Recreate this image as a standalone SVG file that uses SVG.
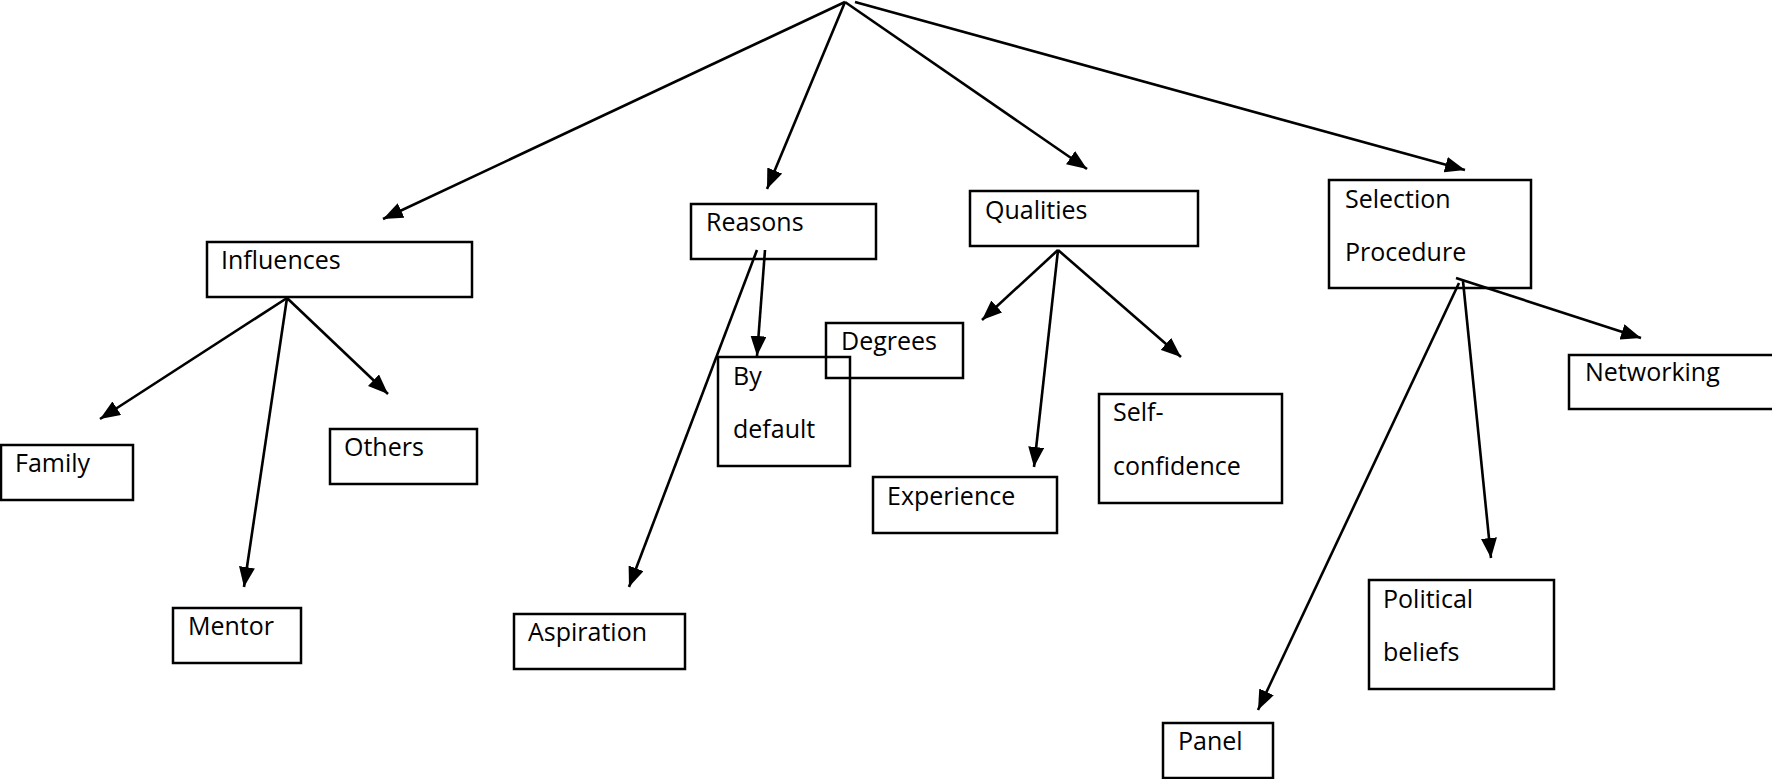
<svg xmlns="http://www.w3.org/2000/svg" width="1772" height="779" viewBox="0 0 1772 779">
<style>
.box{fill:none;stroke:#000;stroke-width:2.5}
.t{font-family:"Open Sans","Liberation Sans",sans-serif;font-size:25px;fill:#000}
.c{stroke:#000;stroke-width:2.6;fill:none;marker-end:url(#ah)}
</style>
<defs>
<marker id="ah" markerUnits="userSpaceOnUse" markerWidth="22" markerHeight="16" refX="20" refY="8" orient="auto" viewBox="0 0 22 16">
<path d="M0,0 L20,8 L0,16 z" fill="#000"/>
</marker>
</defs>
<rect width="1772" height="779" fill="#fff"/>
<g id="connectors">
<line class="c" x1="845" y1="2" x2="383" y2="219"/>
<line class="c" x1="845" y1="2" x2="767" y2="189"/>
<line class="c" x1="845" y1="2" x2="1087" y2="169"/>
<line class="c" x1="855" y1="2" x2="1465" y2="170"/>
<line class="c" x1="287" y1="298" x2="100" y2="419"/>
<line class="c" x1="287" y1="298" x2="244" y2="587"/>
<line class="c" x1="287" y1="298" x2="388" y2="394"/>
<line class="c" x1="757" y1="250" x2="629" y2="587"/>
<line class="c" x1="765" y1="250" x2="757" y2="356"/>
<line class="c" x1="1058" y1="250" x2="982" y2="320"/>
<line class="c" x1="1058" y1="250" x2="1034" y2="467"/>
<line class="c" x1="1058" y1="250" x2="1181" y2="357"/>
<line class="c" x1="1456" y1="278" x2="1641" y2="338"/>
<line class="c" x1="1459" y1="283" x2="1258" y2="710"/>
<line class="c" x1="1463" y1="281" x2="1491" y2="558"/>
</g>
<g id="influences"><rect class="box" x="207" y="242" width="265" height="55"/><text class="t" x="221" y="269">Influences</text></g>
<g id="reasons"><rect class="box" x="691" y="204" width="185" height="55"/><text class="t" x="706" y="231">Reasons</text></g>
<g id="qualities"><rect class="box" x="970" y="191" width="228" height="55"/><text class="t" x="985" y="219">Qualities</text></g>
<g id="selection"><rect class="box" x="1329" y="180" width="202" height="108"/><text class="t" x="1345" y="208">Selection</text><text class="t" x="1345" y="261">Procedure</text></g>
<g id="networking"><rect class="box" x="1569" y="355" width="220" height="54"/><text class="t" x="1585" y="381">Networking</text></g>
<g id="family"><rect class="box" x="1" y="445" width="132" height="55"/><text class="t" x="15" y="472">Family</text></g>
<g id="others"><rect class="box" x="330" y="429" width="147" height="55"/><text class="t" x="344" y="456">Others</text></g>
<g id="mentor"><rect class="box" x="173" y="608" width="128" height="55"/><text class="t" x="188" y="635">Mentor</text></g>
<g id="aspiration"><rect class="box" x="514" y="614" width="171" height="55"/><text class="t" x="528" y="641">Aspiration</text></g>
<g id="degrees"><rect class="box" x="826" y="323" width="137" height="55"/><text class="t" x="841" y="350">Degrees</text></g>
<g id="bydefault"><rect class="box" x="718" y="357" width="132" height="109"/><text class="t" x="733" y="385">By</text><text class="t" x="733" y="438">default</text></g>
<g id="experience"><rect class="box" x="873" y="477" width="184" height="56"/><text class="t" x="887" y="505">Experience</text></g>
<g id="selfconfidence"><rect class="box" x="1099" y="394" width="183" height="109"/><text class="t" x="1113" y="421">Self-</text><text class="t" x="1113" y="475">confidence</text></g>
<g id="political"><rect class="box" x="1369" y="580" width="185" height="109"/><text class="t" x="1383" y="608">Political</text><text class="t" x="1383" y="661">beliefs</text></g>
<g id="panel"><rect class="box" x="1163" y="723" width="110" height="55"/><text class="t" x="1178" y="750">Panel</text></g>
</svg>
